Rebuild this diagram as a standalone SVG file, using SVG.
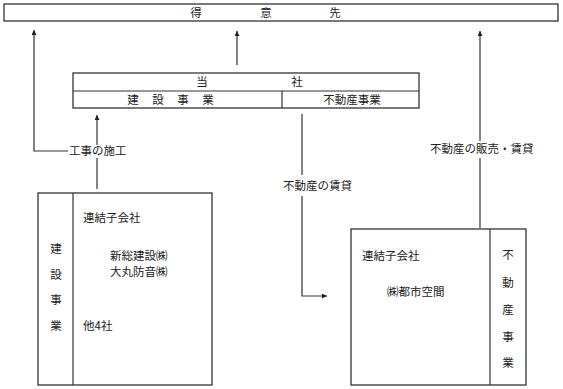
<svg xmlns="http://www.w3.org/2000/svg" width="563" height="389" viewBox="0 0 563 389">
<style>
.box{fill:#fff;stroke:#333;stroke-width:1.3}
.ln{fill:none;stroke:#333;stroke-width:1.2}
text{font-family:"Noto Sans CJK JP","Liberation Serif",sans-serif;font-size:11.5px;fill:#222}
.c{text-anchor:middle}
</style>
<defs>
<marker id="ah" viewBox="0 0 10 10" refX="10" refY="5" markerWidth="5" markerHeight="5" orient="auto" markerUnits="userSpaceOnUse">
<path d="M0,0L10,5L0,10z" fill="#222"/>
</marker>
</defs>
<rect width="563" height="389" fill="#fff"/>
<g id="tokuisaki">
<rect class="box" x="4" y="4" width="554" height="17"/>
<text class="c" x="196" y="17">得</text>
<text class="c" x="266" y="17">意</text>
<text class="c" x="335" y="17">先</text>
</g>
<g id="tosha">
<rect class="box" x="73" y="73" width="346" height="35"/>
<line class="ln" x1="73" y1="91" x2="419" y2="91"/>
<line class="ln" x1="282" y1="91" x2="282" y2="108"/>
<text class="c" x="202" y="86">当</text>
<text class="c" x="297" y="86">社</text>
<text class="c" x="133" y="104">建</text>
<text class="c" x="158" y="104">設</text>
<text class="c" x="183" y="104">事</text>
<text class="c" x="208" y="104">業</text>
<text class="c" x="352" y="104">不動産事業</text>
</g>
<g id="kensetsu">
<rect class="box" x="38" y="193" width="174" height="192"/>
<line class="ln" x1="73" y1="193" x2="73" y2="385"/>
<text class="c" x="56" y="253">建</text>
<text class="c" x="56" y="279">設</text>
<text class="c" x="56" y="304">事</text>
<text class="c" x="56" y="330">業</text>
<text x="83" y="222">連結子会社</text>
<text x="110" y="260">新総建設㈱</text>
<text x="110" y="276">大丸防音㈱</text>
<text x="83" y="330">他4社</text>
</g>
<g id="fudosan">
<rect class="box" x="351" y="229" width="175" height="156"/>
<line class="ln" x1="490" y1="229" x2="490" y2="385"/>
<text x="362" y="260">連結子会社</text>
<text x="387" y="296">㈱都市空間</text>
<text class="c" x="508" y="259">不</text>
<text class="c" x="508" y="287">動</text>
<text class="c" x="508" y="314">産</text>
<text class="c" x="508" y="341">事</text>
<text class="c" x="508" y="367">業</text>
</g>
<g id="connectors">
<path class="ln" d="M68,151H34V30" marker-end="url(#ah)"/>
<line class="ln" x1="97" y1="189" x2="97" y2="158"/>
<line class="ln" x1="97" y1="145" x2="97" y2="115" marker-end="url(#ah)"/>
<text x="69" y="155">工事の施工</text>
<line class="ln" x1="237" y1="65" x2="237" y2="31" marker-end="url(#ah)"/>
<line class="ln" x1="302" y1="114" x2="302" y2="175"/>
<path class="ln" d="M302,196V296H327" marker-end="url(#ah)"/>
<text x="283" y="190">不動産の賃貸</text>
<line class="ln" x1="480" y1="228" x2="480" y2="158"/>
<line class="ln" x1="480" y1="141" x2="480" y2="31" marker-end="url(#ah)"/>
<text x="430" y="153">不動産の販売・賃貸</text>
</g>
</svg>
